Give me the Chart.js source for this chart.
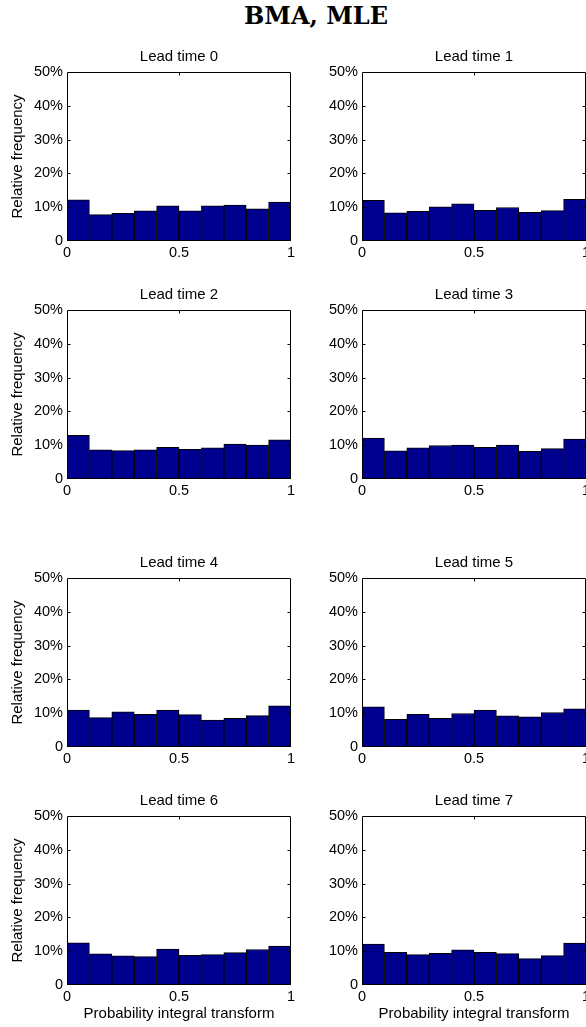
<!DOCTYPE html>
<html>
<head>
<meta charset="utf-8">
<script src="https://cdn.jsdelivr.net/npm/chart.js@4/dist/chart.umd.min.js"></script>
<style>
  html, body { margin: 0; padding: 0; background: #fff; }
  body { width: 586px; height: 1027px; position: relative; overflow: hidden; }
  #title { position: absolute; left: 0; width: 632px; top: 1px; text-align: center; line-height: 30px;
           font-family: "DejaVu Serif", serif; font-weight: bold; font-size: 24px; color: #000; white-space: nowrap; }
  canvas { position: absolute; }
</style>
</head>
<body>
<div id="title"></div>
<script>
// ---- data ----
const mainTitle = "BMA, MLE";
const panelTitles = ["Lead time 0", "Lead time 1", "Lead time 2", "Lead time 3",
                     "Lead time 4", "Lead time 5", "Lead time 6", "Lead time 7"];
const binCenters = [0.05, 0.15, 0.25, 0.35, 0.45, 0.55, 0.65, 0.75, 0.85, 0.95];
const lead0 = [12.2, 7.8, 8.2, 8.9, 10.4, 8.9, 10.4, 10.6, 9.5, 11.5];
const lead1 = [12.0, 8.3, 8.8, 10.1, 11.0, 9.1, 9.9, 8.5, 9.0, 12.3];
const lead2 = [12.9, 8.6, 8.4, 8.6, 9.4, 8.8, 9.2, 10.3, 10.0, 11.6];
const lead3 = [12.1, 8.3, 9.2, 9.9, 10.0, 9.4, 10.0, 8.2, 9.0, 11.8];
const lead4 = [10.9, 8.7, 10.4, 9.7, 10.9, 9.6, 8.0, 8.5, 9.3, 12.2];
const lead5 = [11.9, 8.2, 9.7, 8.5, 9.9, 10.9, 9.2, 8.9, 10.2, 11.3];
const lead6 = [12.5, 9.2, 8.6, 8.4, 10.6, 8.8, 9.0, 9.6, 10.5, 11.5];
const lead7 = [12.1, 9.7, 9.0, 9.4, 10.4, 9.7, 9.3, 7.8, 8.7, 12.4];
const xTicks = [0, 0.5, 1];
const xTickLabels = ["0", "0.5", "1"];
const yTicks = [0, 10, 20, 30, 40, 50];
const yTickLabels = ["0", "10%", "20%", "30%", "40%", "50%"];
const yAxisTitle = "Relative frequency";
const xAxisTitle = "Probability integral transform";

const series = [lead0, lead1, lead2, lead3, lead4, lead5, lead6, lead7];

// ---- layout ----
document.getElementById('title').textContent = mainTitle;
const colLeft = [67, 362];
const rowTop = [72, 310, 578, 816];
const axW = 224, axH = 169;
const yAxisW = 67, topBlock = 30, rightPad = 12;

const FONT = "Liberation Sans, Arial, Helvetica, sans-serif";

const boxPlugin = {
  id: 'matlabBox',
  afterDatasetsDraw(chart) {
    const {ctx, chartArea: a, scales: {x, y}} = chart;
    ctx.save();
    ctx.strokeStyle = '#000';
    ctx.lineWidth = 1;
    const L = Math.round(a.left) + 0.5, R = Math.round(a.right) - 0.5;
    const T = Math.round(a.top) + 0.5, B = Math.round(a.bottom) - 0.5;
    ctx.beginPath();
    ctx.rect(L, T, R - L, B - T);
    const tl = 3;
    yTicks.forEach(v => {
      if (v === yTicks[0] || v === yTicks[yTicks.length - 1]) return;
      const py = Math.round(y.getPixelForValue(v)) + 0.5;
      ctx.moveTo(L, py); ctx.lineTo(L + tl, py);
      ctx.moveTo(R, py); ctx.lineTo(R - tl, py);
    });
    xTicks.forEach(v => {
      if (v === xTicks[0] || v === xTicks[xTicks.length - 1]) return;
      const px = Math.round(x.getPixelForValue(v)) + 0.5;
      ctx.moveTo(px, T); ctx.lineTo(px, T + tl);
      ctx.moveTo(px, B); ctx.lineTo(px, B - tl);
    });
    ctx.stroke();
    ctx.restore();
  }
};

series.forEach((vals, i) => {
  const col = i % 2, row = Math.floor(i / 2);
  const bottomRow = row === 3;
  const xAxisH = bottomRow ? 38 : 24;
  const cv = document.createElement('canvas');
  const W = yAxisW + axW + rightPad;
  const H = topBlock + axH + xAxisH;
  cv.width = W; cv.height = H;
  cv.style.width = W + 'px'; cv.style.height = H + 'px';
  cv.style.left = (colLeft[col] - yAxisW) + 'px';
  cv.style.top = (rowTop[row] - topBlock) + 'px';
  document.body.appendChild(cv);

  new Chart(cv.getContext('2d'), {
    type: 'bar',
    data: {
      datasets: [{
        data: binCenters.map((c, k) => ({x: c, y: vals[k]})),
        backgroundColor: '#00008f',
        borderColor: '#000',
        borderWidth: 1,
        borderSkipped: false,
        barPercentage: 1.0,
        categoryPercentage: 1.0
      }]
    },
    options: {
      responsive: false,
      animation: false,
      devicePixelRatio: 1,
      layout: { padding: { top: 6, left: 0, right: rightPad, bottom: 0 } },
      plugins: {
        legend: { display: false },
        tooltip: { enabled: false },
        title: {
          display: true, text: panelTitles[i], color: '#000', fullSize: false,
          font: { family: FONT, size: 15, weight: 'normal', lineHeight: 1.2 },
          padding: { top: 0, bottom: 6 }
        }
      },
      scales: {
        x: {
          type: 'linear', min: 0, max: 1, offset: false,
          afterBuildTicks: s => { s.ticks = xTicks.map(v => ({value: v})); },
          afterFit: s => { s.height = xAxisH; },
          ticks: {
            color: '#000', font: { family: FONT, size: 14.5 }, padding: 3,
            maxRotation: 0, autoSkip: false,
            callback: (v, idx) => xTickLabels[idx]
          },
          grid: { display: false, drawTicks: false },
          border: { display: false },
          title: {
            display: bottomRow, text: xAxisTitle, color: '#000',
            font: { family: FONT, size: 15 }, padding: { top: 0, bottom: 0 }
          }
        },
        y: {
          min: 0, max: 50,
          afterBuildTicks: s => { s.ticks = yTicks.map(v => ({value: v})); },
          afterFit: s => { s.width = yAxisW; },
          ticks: {
            color: '#000', font: { family: FONT, size: 14.5 }, padding: 4,
            autoSkip: false,
            callback: (v, idx) => yTickLabels[idx]
          },
          grid: { display: false, drawTicks: false },
          border: { display: false },
          title: {
            display: col === 0, text: yAxisTitle, color: '#000',
            font: { family: FONT, size: 15 }, padding: { top: 9, bottom: 0 }
          }
        }
      }
    },
    plugins: [boxPlugin]
  });
});
</script>
</body>
</html>
